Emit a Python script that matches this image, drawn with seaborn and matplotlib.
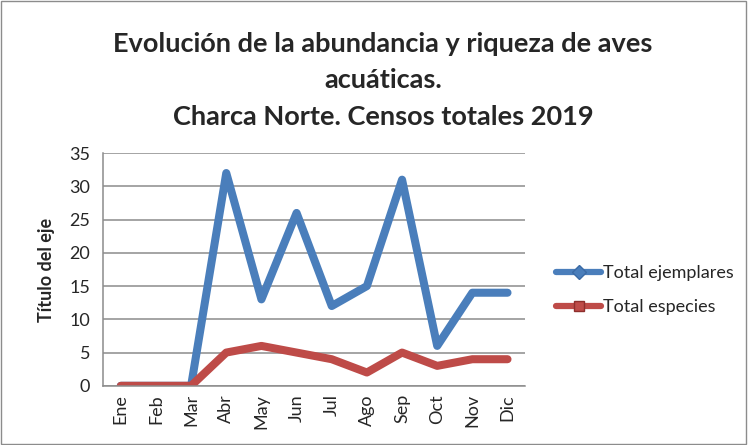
import pandas as pd
import seaborn as sns
import matplotlib.pyplot as plt
from matplotlib.lines import Line2D
from matplotlib.patches import Rectangle

# Data
meses = ["Ene", "Feb", "Mar", "Abr", "May", "Jun", "Jul", "Ago", "Sep", "Oct", "Nov", "Dic"]
total_ejemplares = [0, 0, 0, 32, 13, 26, 12, 15, 31, 6, 14, 14]
total_especies = [0, 0, 0, 5, 6, 5, 4, 2, 5, 3, 4, 4]

blue = "#4A7EBB"
red = "#BE4B48"

sns.set_style("white")
plt.rcParams['font.family'] = ['Lato', 'DejaVu Sans']

df = pd.DataFrame({"mes": meses, "ejemplares": total_ejemplares, "especies": total_especies})

fig = plt.figure(figsize=(7.48, 4.45), dpi=100)
ax = fig.add_axes([0.138, 0.133, 0.564, 0.523])

sns.lineplot(data=df, x="mes", y="ejemplares", sort=False, color=blue, linewidth=5.8,
             solid_capstyle="round", solid_joinstyle="round", ax=ax)
sns.lineplot(data=df, x="mes", y="especies", sort=False, color=red, linewidth=5.8,
             solid_capstyle="round", solid_joinstyle="round", ax=ax)

ax.set_xlim(-0.5, len(meses) - 0.5)
ax.set_ylim(0, 35)
ax.set_yticks(range(0, 36, 5))
ax.grid(axis="y", color="#8c8c8c", linewidth=1.1)
ax.set_axisbelow(True)
for s in ["top", "right"]:
    ax.spines[s].set_visible(False)
for s in ["left", "bottom"]:
    ax.spines[s].set_color("#8c8c8c")
    ax.spines[s].set_linewidth(1.1)

ax.set_xticks(range(len(meses)))
ax.set_xticklabels(meses, rotation=90, fontsize=13)
ax.tick_params(axis="y", labelsize=13, pad=6)
ax.tick_params(axis="x", length=0, pad=6)
ax.set_xlabel("")
ax.set_ylabel("Título del eje", fontsize=13, fontweight="bold", labelpad=10)

fig.suptitle("Evolución de la abundancia y riqueza de aves\nacuáticas.\nCharca Norte. Censos totales 2019",
             x=0.512, y=0.928, fontsize=19.5, fontweight="bold", linespacing=1.62)

handles = [
    Line2D([0], [0], color=blue, linewidth=4.5, marker="D", markersize=7,
           markerfacecolor=blue, markeredgecolor="#3a6aa5"),
    Line2D([0], [0], color=red, linewidth=4.5, marker="s", markersize=7,
           markerfacecolor=red, markeredgecolor="#8e2f2c"),
]
fig.legend(handles, ["Total ejemplares", "Total especies"], loc="center left",
           bbox_to_anchor=(0.722, 0.348), frameon=False, fontsize=13,
           handlelength=2.5, handletextpad=0.1, labelspacing=1.0)

fig.patches.append(Rectangle((0.002, 0.003), 0.995, 0.994, transform=fig.transFigure,
                             fill=False, edgecolor="#8c8c8c", linewidth=1))

fig.savefig("out.png", dpi=100)
